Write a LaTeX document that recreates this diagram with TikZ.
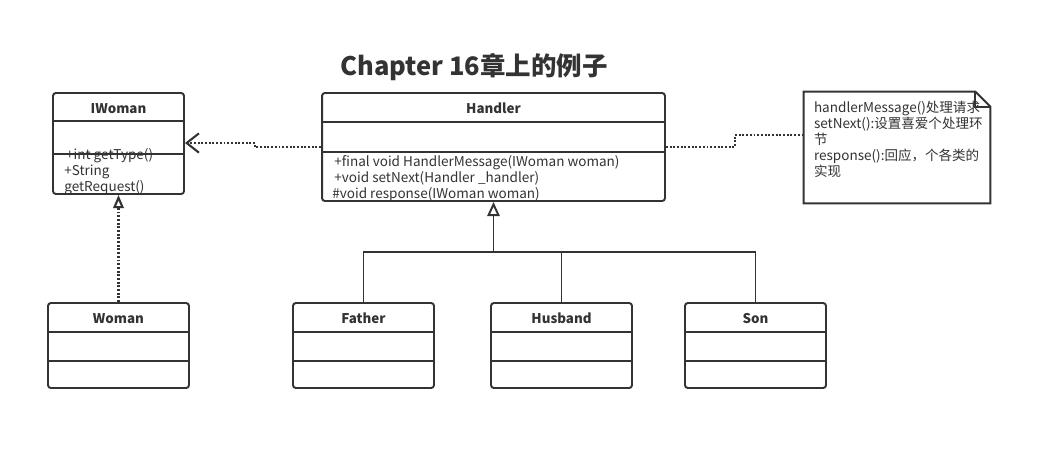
\documentclass[tikz,border=0pt]{standalone}
\usepackage{fontspec}
\setmainfont{Noto Sans CJK SC}
\usetikzlibrary{arrows.meta,calc}
\definecolor{umlgray}{HTML}{333333}
\tikzset{
  cls/.style={draw=umlgray, line width=1.1pt, rounded corners=1.6pt, inner sep=0pt},
  clsname/.style={font=\bfseries\fontsize{7.6}{9}\selectfont, text=umlgray, inner sep=0pt},
  members/.style={font=\fontsize{7.7}{9.1}\selectfont, text=umlgray, align=left, inner sep=0pt, anchor=north west},
  sepline/.style={draw=umlgray, line width=1.1pt},
  depline/.style={draw=umlgray, line width=1.2pt, dash pattern=on 1.1pt off 1pt},
  inherit/.style={draw=umlgray, line width=1.1pt},
}
\begin{document}
\begin{tikzpicture}[x=0.02cm,y=-0.02cm]
        \fill[white] (0,0) rectangle (1053,450);
        \useasboundingbox (0,0) rectangle (1053,450);
        \node[font=\bfseries\fontsize{14.5}{17}\selectfont, text=umlgray] (title) at (474,67) {Chapter 16章上的例子};
        % interface IWoman
        \node[cls, minimum width=2.62cm, minimum height=2.02cm] (iwoman) at (118.5,143.5) {};
        \node[clsname] (iwoman-name) at ($(iwoman.north)+(0,16.5)$) {IWoman};
        \draw[sepline] ($(iwoman.north west)+(0,29)$) -- ($(iwoman.north east)+(0,29)$);
        \draw[sepline] ($(iwoman.north west)+(0,62)$) -- ($(iwoman.north east)+(0,62)$);
        \node[members] (iwoman-ops) at (64,148) {\hspace{1pt}+int getType()\\+String\\getRequest()};
        % abstract Handler
        \node[cls, minimum width=6.86cm, minimum height=2.16cm] (handler) at (493.5,147) {};
        \node[clsname] (handler-name) at ($(handler.north)+(0,16.5)$) {Handler};
        \draw[sepline] ($(handler.north west)+(0,30)$) -- ($(handler.north east)+(0,30)$);
        \draw[sepline] ($(handler.north west)+(0,60)$) -- ($(handler.north east)+(0,60)$);
        \node[members] (handler-ops) at (332,155) {\hspace{1.2pt}+final void HandlerMessage(IWoman woman)\\\hspace{1.2pt}+void setNext(Handler \_handler)\\\#void response(IWoman woman)};
        % note
        \node[minimum width=3.72cm, minimum height=2.22cm, inner sep=0pt] (note) at (897,147.5) {};
        \draw[sepline] (note.north west) -- ($(note.north east)+(-15,0)$) -- ($(note.north east)+(0,15)$) -- (note.south east) -- (note.south west) -- cycle;
        \draw[sepline] ($(note.north east)+(-15,0)$) |- ($(note.north east)+(0,15)$);
        \node[members] (note-text) at ($(note.north west)+(10,9)$) {handlerMessage()处理请求\\setNext():设置喜爱个处理环\\节\\response():回应，个各类的\\实现};
        % concrete classes
        \foreach \cname/\ctext/\cx in {woman/Woman/118.5, father/Father/363.5, husband/Husband/561.5, son/Son/755.5} {
            \node[cls, minimum width=2.82cm, minimum height=1.7cm] (\cname) at (\cx,345.5) {};
            \node[clsname] (\cname-name) at ($(\cname.north)+(0,16.5)$) {\ctext};
            \draw[sepline] ($(\cname.north west)+(0,30)$) -- ($(\cname.north east)+(0,30)$);
            \draw[sepline] ($(\cname.north west)+(0,59)$) -- ($(\cname.north east)+(0,59)$);
        }
        % connectors
        \coordinate (depbend) at (255,143);
        \coordinate (notebend) at (735,135);
        \coordinate (bus) at (handler.south |- 0,252);
        \draw[depline, -{Straight Barb[length=7pt, width=11pt]}] (handler.west) -| (depbend) -- (depbend -| iwoman.east);
        \draw[depline] (handler.east) -| (notebend) -- (notebend -| note.west);
        \draw[depline, -{Triangle[open, length=7.5pt, width=6pt]}] (woman.north) -- (iwoman.south);
        \draw[inherit] (father.north) |- (bus) -| (son.north);
        \draw[inherit] (husband.north) -- (husband.north |- bus);
        \draw[inherit, -{Triangle[open, length=8pt, width=7pt]}] (bus) -- (handler.south);
    \end{tikzpicture}
\end{document}
